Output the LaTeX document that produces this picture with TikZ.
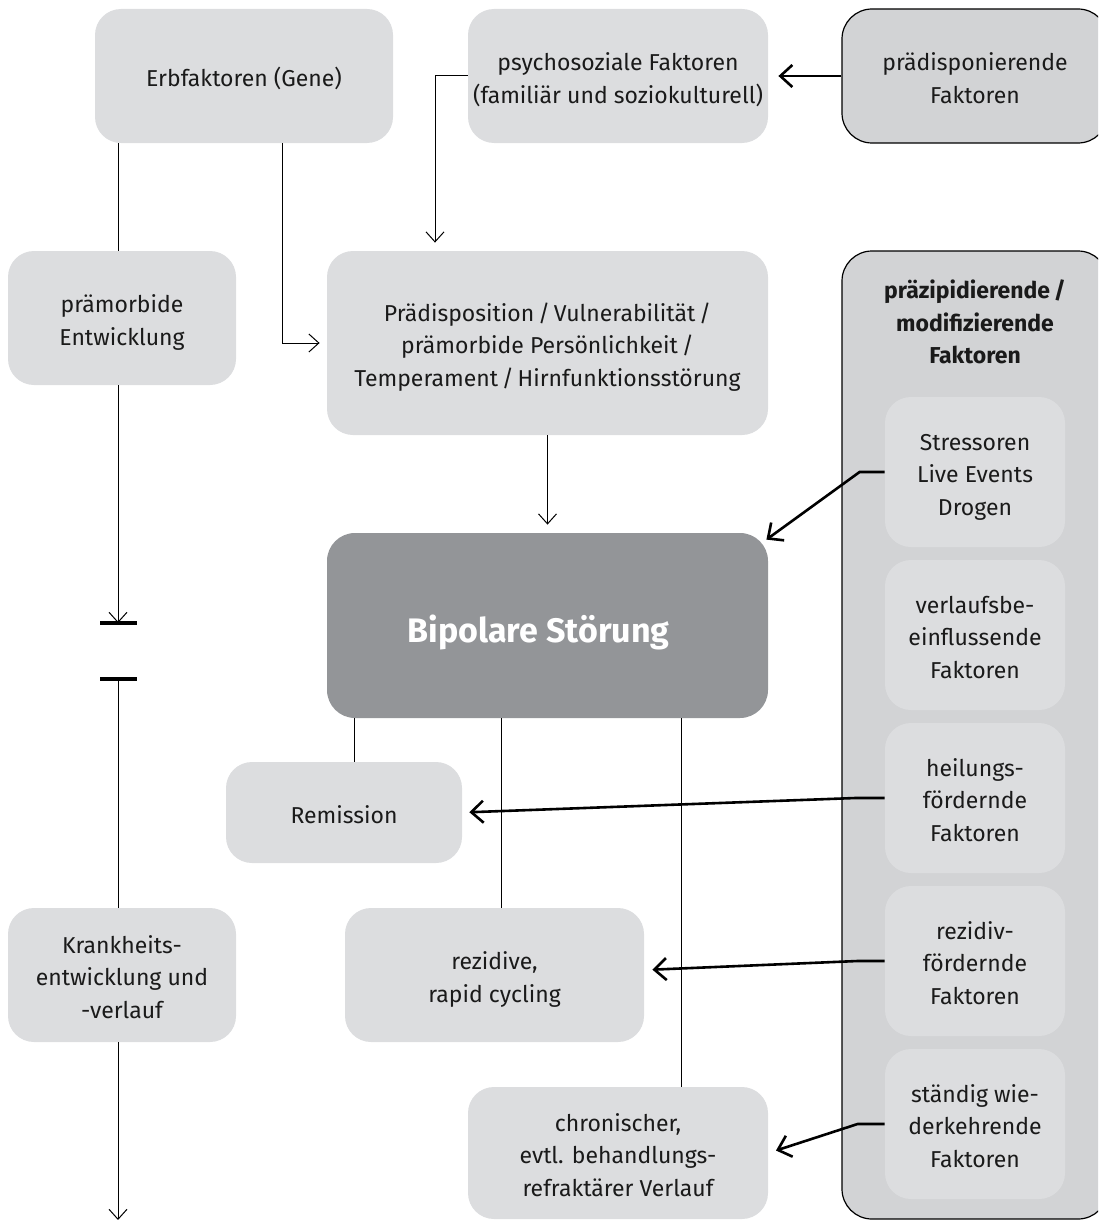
\documentclass[tikz,border=0pt]{standalone}
\usepackage{fontspec}
\setmainfont{Fira Sans}
\usetikzlibrary{arrows.meta,calc}
\definecolor{lightbox}{HTML}{DCDDDF}
\definecolor{panelgray}{HTML}{D2D3D5}
\definecolor{darkbox}{HTML}{939598}
\definecolor{txt}{HTML}{1A1A1A}
\newcommand{\tx}[1]{\raisebox{-2.2pt}[\height][\depth]{\begin{tabular}{@{}c@{}}#1\end{tabular}}}
\newcommand{\bigtx}[1]{\raisebox{-3.6pt}[\height][\depth]{\hspace*{-9pt}#1}}
\begin{document}
\begin{tikzpicture}[x=0.5pt,y=-0.5pt,
  base/.style={align=center, inner sep=0pt, text=txt, font=\fontsize{11.5}{16.3}\selectfont},
  lbox/.style={base, fill=lightbox, rounded corners=13pt},
  obox/.style={base, fill=panelgray, draw=black, line width=0.6pt, rounded corners=15pt},
  bigbox/.style={base, fill=darkbox, rounded corners=14pt, text=white, font=\fontsize{17}{20}\selectfont\bfseries},
  conn/.style={line width=0.5pt, draw=black},
  thinarrow/.style={conn, -{Straight Barb[length=5pt,width=9pt]}},
  thickarrow/.style={line width=1.3pt, draw=black, -{Straight Barb[length=6pt,width=11pt,line width=1.3pt]}},
  barline/.style={line width=1.6pt, draw=black}
]
\useasboundingbox (0,0) rectangle (1098,1220);
\clip (0,0) rectangle (1098,1220);

% top row
\node[lbox, minimum width=149pt, minimum height=67pt] (erb) at (244,76) {\tx{Erbfaktoren (Gene)}};
\node[lbox, minimum width=150pt, minimum height=67pt] (psy) at (618,76) {\tx{psychosoziale Faktoren\\(familiär und soziokulturell)}};
\node[obox, minimum width=133pt, minimum height=67pt] (prae) at (975,76) {\tx{prädisponierende\\Faktoren}};

% left column
\node[lbox, minimum width=114pt, minimum height=67pt] (praem) at (122,318) {\tx{prämorbide\\Entwicklung}};
\node[lbox, minimum width=114pt, minimum height=67pt] (kr) at (122,975) {\tx{Krankheits-\\entwicklung und\\-verlauf}};

% middle
\node[lbox, minimum width=220.5pt, minimum height=92pt] (pdisp) at (547.5,343) {\tx{Prädisposition\,/\,Vulnerabilität\,/\\prämorbide Persönlichkeit\,/\\Temperament\,/\,Hirnfunktionsstörung}};
\node[bigbox, minimum width=220.5pt, minimum height=92.5pt] (bip) at (547.5,625.5) {\bigtx{Bipolare Störung}};
\node[lbox, minimum width=118pt, minimum height=50.5pt] (rem) at (344,812.5) {\tx{Remission}};
\node[lbox, minimum width=149.5pt, minimum height=67pt] (rez) at (494.5,975) {\tx{rezidive,\\rapid cycling}};
\node[lbox, minimum width=150pt, minimum height=66pt] (chr) at (618,1153) {\tx{chronischer,\\evtl. behandlungs-\\refraktärer Verlauf}};

% right panel
\node[obox, minimum width=133pt, minimum height=484pt] (panel) at (975,735) {};
\node[base, font=\fontsize{11.5}{16.3}\selectfont\bfseries] (ptitle) at (975,322) {präzipidierende\,/\\modifizierende\\Faktoren};
\node[lbox, minimum width=90pt, minimum height=75pt] (s1) at (975,472) {\tx{Stressoren\\Live Events\\Drogen}};
\node[lbox, minimum width=90pt, minimum height=75pt] (s2) at (975,635) {\tx{verlaufsbe-\\einflussende\\Faktoren}};
\node[lbox, minimum width=90pt, minimum height=75pt] (s3) at (975,798) {\tx{heilungs-\\fördernde\\Faktoren}};
\node[lbox, minimum width=90pt, minimum height=75pt] (s4) at (975,961) {\tx{rezidiv-\\fördernde\\Faktoren}};
\node[lbox, minimum width=90pt, minimum height=75pt] (s5) at (975,1124) {\tx{ständig wie-\\derkehrende\\Faktoren}};

% helper coordinates
\coordinate (lx) at (118,0);
\coordinate (ex) at (282,0);
\coordinate (px) at (435,0);
\coordinate (r1) at (354,0);
\coordinate (r2) at (501,0);
\coordinate (r3) at (681,0);
\coordinate (bar1) at (118,623);
\coordinate (bar2) at (118,679);
\coordinate (lend) at (118,1220);
\coordinate (bipin) at ($(bip.north east)+(-2,7)$);

% left spine
\draw[conn] (erb.south -| lx) -- (praem.north -| lx);
\draw[thinarrow] (praem.south -| lx) -- (bar1);
\draw[barline] ($(bar1)+(-18,0)$) -- ($(bar1)+(19,0)$);
\draw[barline] ($(bar2)+(-18,0)$) -- ($(bar2)+(19,0)$);
\draw[conn] (bar2) -- (kr.north -| lx);
\draw[thinarrow] (kr.south -| lx) -- (lend);

% into predisposition
\draw[thinarrow, shorten >=3.5pt] (erb.south -| ex) |- (pdisp.west);
\draw[thinarrow, shorten >=4pt] (psy.west) -| (pdisp.north -| px);
\draw[thickarrow, shorten >=5pt] (prae.west) -- (psy.east);
\draw[thinarrow, shorten >=4pt] (pdisp.south) -- (bip.north);

% outcomes
\draw[conn] (bip.south -| r1) -- (rem.north -| r1);
\draw[conn] (bip.south -| r2) -- (rez.north -| r2);
\draw[conn] (bip.south -| r3) -- (chr.north -| r3);

% factor arrows
\draw[thickarrow] (s1.west) -- ++(-25,0) -- (bipin);
\draw[thickarrow, shorten >=3.5pt] (s3.west) -- ++(-29,0) -- (rem.east);
\draw[thickarrow, shorten >=4pt] (s4.west) -- ++(-27,0) -- ([yshift=2.5pt]rez.east);
\draw[thickarrow, shorten >=4pt] (s5.west) -- ++(-27,0) -- (chr.east);
\end{tikzpicture}
\end{document}
